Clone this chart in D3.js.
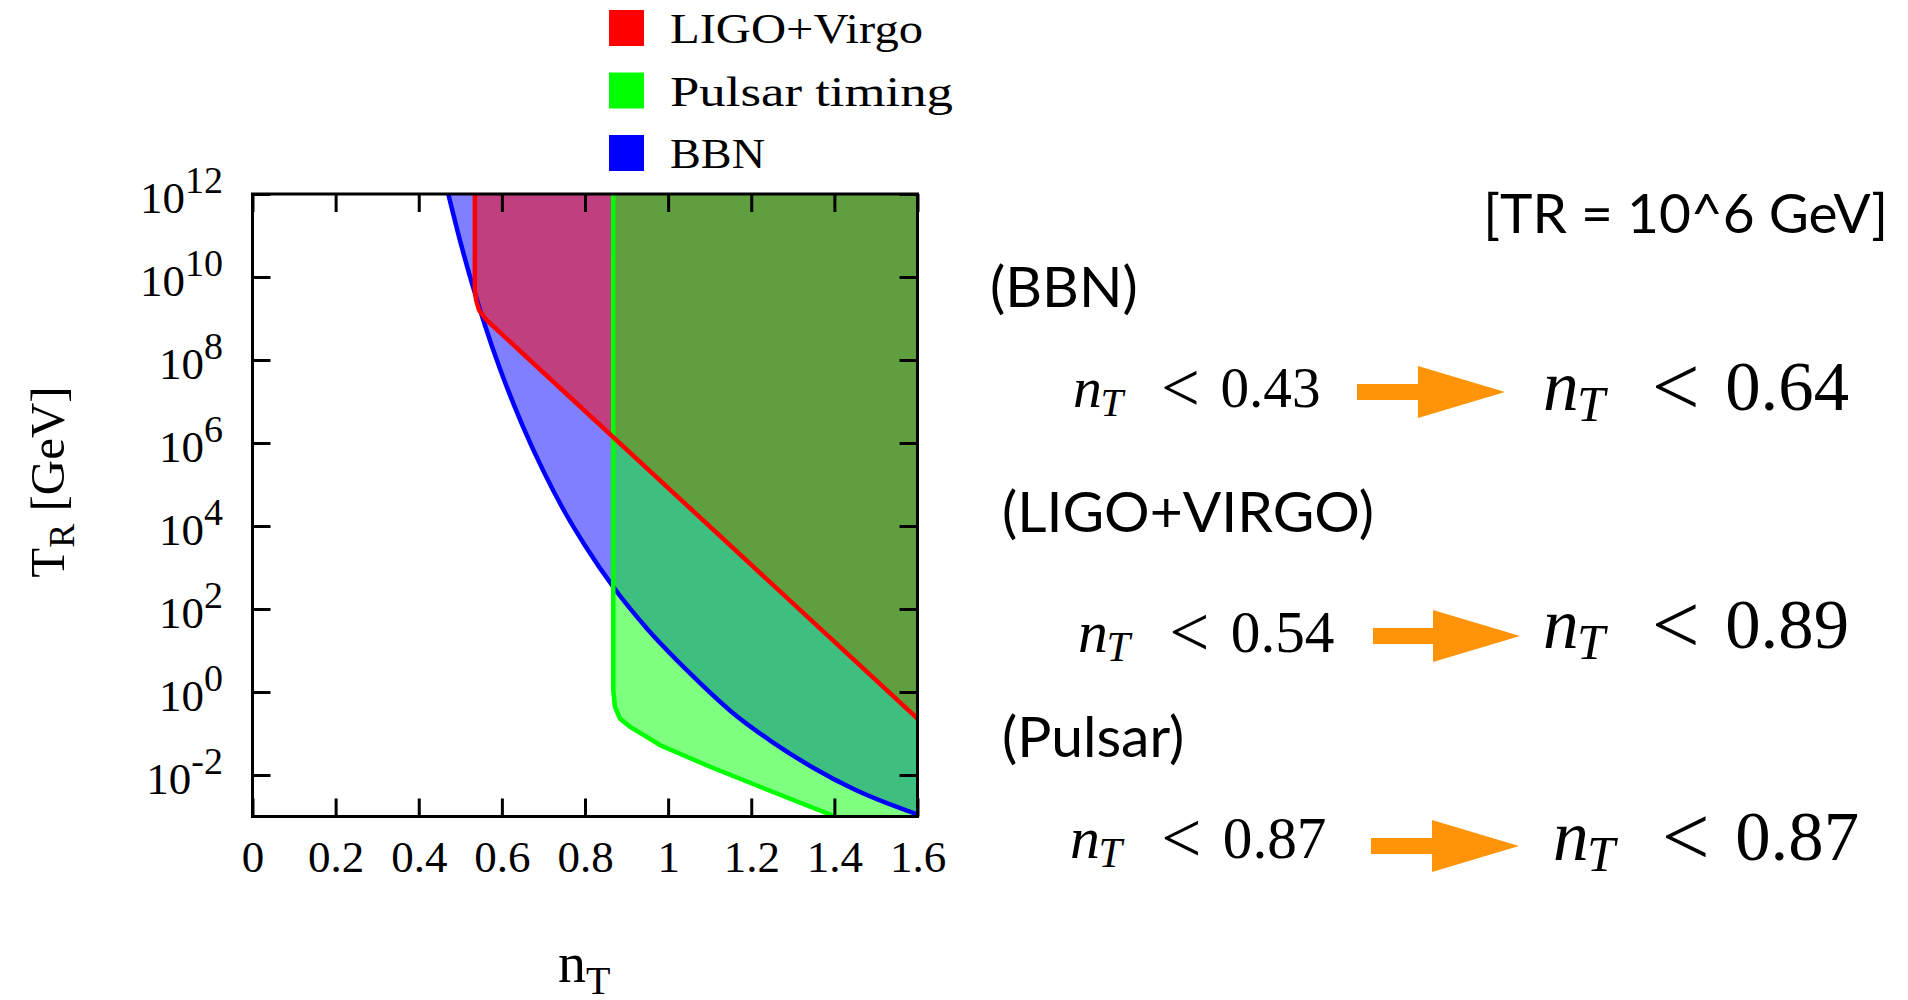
<!DOCTYPE html>
<html>
<head>
<meta charset="utf-8">
<script src="https://cdn.jsdelivr.net/npm/d3@7"></script>
<style>
  body { margin: 0; background: #fff; }
  text { font-family: "Liberation Serif", "Times New Roman", serif; fill: #000; }
  text.sans { font-family: Lato, "Open Sans", sans-serif; }
</style>
</head>
<body>
<script>
// boundaries: n_T and T_R [GeV]
var bbnN = [0.471, 0.50, 0.53, 0.56, 0.60, 0.65, 0.70, 0.75, 0.80, 0.87, 0.95, 1.05, 1.15, 1.25, 1.35, 1.45, 1.6];
var bbnT = [1e12, 7.1e10, 6.0e9, 6.5e8, 4.6e7, 2.6e6, 2.1e5, 2.3e4, 3.4e3, 320, 33, 3.0, 0.35, 0.063, 0.0148, 0.0044, 0.00112];

var ligoN = [0.535, 0.535, 0.538, 0.545, 0.5635, 1.6];
var ligoT = [1e12, 5e9, 2.8e9, 1.6e9, 9.1e8, 0.23];

var pulsarN = [0.868, 0.868, 0.872, 0.884, 0.908, 0.981, 1.101, 1.221, 1.402];
var pulsarT = [1e12, 1.1, 0.44, 0.23, 0.146, 0.052, 0.0158, 0.0052, 0.001];

var legendNames = ["LIGO+Virgo", "Pulsar timing", "BBN"];
var legendColors = ["#ff0000", "#00ff00", "#0000ff"];

var xTicks = [0, 0.2, 0.4, 0.6, 0.8, 1, 1.2, 1.4, 1.6];
var yTicks = [1e-2, 1e0, 1e2, 1e4, 1e6, 1e8, 1e10, 1e12];

// right-hand notes
var noteTitle = "[TR = 10^6 GeV]";
var constraintNames = ["(BBN)", "(LIGO+VIRGO)", "(Pulsar)"];
var oldBound = [0.43, 0.54, 0.87];
var newBound = [0.64, 0.89, 0.87];

var width = 1908, height = 1000;
var plotL = 252.5, plotR = 917.5, plotT = 194, plotB = 816.5;

var x = d3.scaleLinear().domain([0, 1.6]).range([plotL, plotR]);
var y = d3.scaleLog().domain([1e-3, 1e12]).range([plotB, plotT]);

var svg = d3.select("body").append("svg")
    .attr("width", width)
    .attr("height", height);

svg.append("defs").append("clipPath").attr("id", "plotclip")
  .append("rect")
    .attr("x", plotL).attr("y", plotT)
    .attr("width", plotR - plotL).attr("height", plotB - plotT);

function pts(ns, ts) { return ns.map(function(n, i) { return [n, ts[i]]; }); }

var bbn = pts(bbnN, bbnT),
    ligo = pts(ligoN, ligoT),
    pulsar = pts(pulsarN, pulsarT);

var smooth = d3.line().x(function(d) { return x(d[0]); }).y(function(d) { return y(d[1]); }).curve(d3.curveMonotoneX);
var straight = d3.line().x(function(d) { return x(d[0]); }).y(function(d) { return y(d[1]); });

function close(path, corners) {
  return path + corners.map(function(c) { return "L" + x(c[0]) + "," + y(c[1]); }).join("") + "Z";
}

var plot = svg.append("g").attr("clip-path", "url(#plotclip)");

// filled regions, each half transparent so overlaps mix
plot.append("path")
    .attr("d", close(smooth(bbn), [[1.6, 1e-3], [1.6, 1e12]]))
    .attr("fill", "#0000ff").attr("fill-opacity", 0.5);
plot.append("path")
    .attr("d", close(straight(ligo), [[1.6, 1e12]]))
    .attr("fill", "#ff0000").attr("fill-opacity", 0.5);
plot.append("path")
    .attr("d", close(straight(pulsar), [[1.6, 1e-3], [1.6, 1e12]]))
    .attr("fill", "#00ff00").attr("fill-opacity", 0.5);

// boundary lines
plot.append("path").attr("d", smooth(bbn))
    .attr("fill", "none").attr("stroke", "#0000ff").attr("stroke-width", 4.5);
plot.append("path").attr("d", straight(pulsar))
    .attr("fill", "none").attr("stroke", "#00ff00").attr("stroke-width", 4.5);
plot.append("path").attr("d", straight(ligo))
    .attr("fill", "none").attr("stroke", "#ff0000").attr("stroke-width", 4.5);

// axes: inward ticks on all four sides
var xAxis = d3.axisBottom(x).tickValues(xTicks)
    .tickFormat(function(d) { return d; })
    .tickSizeInner(-18).tickSizeOuter(0).tickPadding(24);

var gx = svg.append("g").attr("transform", "translate(0," + plotB + ")").call(xAxis);
gx.attr("font-size", 45);

svg.append("g").attr("transform", "translate(0," + plotT + ")")
    .call(d3.axisTop(x).tickValues(xTicks).tickFormat("").tickSizeInner(-18).tickSizeOuter(0));
svg.append("g").attr("transform", "translate(" + plotL + ",0)")
    .call(d3.axisLeft(y).tickValues(yTicks).tickFormat("").tickSizeInner(-18).tickSizeOuter(0));
svg.append("g").attr("transform", "translate(" + plotR + ",0)")
    .call(d3.axisRight(y).tickValues(yTicks).tickFormat("").tickSizeInner(-18).tickSizeOuter(0));

svg.selectAll(".domain").remove();
svg.selectAll(".tick line").attr("stroke", "#000").attr("stroke-width", 3);

svg.append("rect")
    .attr("x", plotL).attr("y", plotT)
    .attr("width", plotR - plotL).attr("height", plotB - plotT)
    .attr("fill", "none").attr("stroke", "#000").attr("stroke-width", 3);

// y tick labels with exponents
var yLab = svg.append("g").selectAll("text")
    .data(yTicks)
  .join("text")
    .attr("x", 223)
    .attr("y", function(d) { return y(d) + 19; })
    .attr("text-anchor", "end");
yLab.append("tspan").attr("font-size", 45).text("10");
yLab.append("tspan").attr("font-size", 38).attr("dy", -20)
    .text(function(d) { return Math.round(Math.log10(d)); });

// axis titles
var yt = svg.append("text")
    .attr("transform", "translate(64,482) rotate(-90)")
    .attr("text-anchor", "middle");
yt.append("tspan").attr("font-size", 49).text("T");
yt.append("tspan").attr("font-size", 36).attr("dy", 10).text("R");
yt.append("tspan").attr("font-size", 49).attr("dy", -10).text(" [GeV]");

var xt = svg.append("text").attr("x", 558).attr("y", 982);
xt.append("tspan").attr("font-size", 56).text("n");
xt.append("tspan").attr("font-size", 40).attr("dy", 12).text("T");

// legend
var legendTextWidth = [253, 283, 95];
var lg = svg.append("g").selectAll("g")
    .data(legendNames)
  .join("g")
    .attr("transform", function(d, i) { return "translate(609," + (10 + i * 62.5) + ")"; });
lg.append("rect").attr("width", 35).attr("height", 36)
    .attr("fill", function(d, i) { return legendColors[i]; });
lg.append("text").attr("x", 61).attr("y", 33).attr("font-size", 42)
    .attr("textLength", function(d, i) { return legendTextWidth[i]; })
    .attr("lengthAdjust", "spacingAndGlyphs")
    .text(function(d) { return d; });

// notes on the right
var fmt = d3.format(".2f");
var rows = [
  {hx: 990, hy: 307, lx: 1073, ly: 407, lf: 55, ax: 1357, tip: 1505, ay: 392, rx: 1543, ry: 410, rf: 68},
  {hx: 1002, hy: 532, lx: 1078, ly: 652, lf: 57, ax: 1373, tip: 1520, ay: 636, rx: 1543, ry: 648, rf: 68},
  {hx: 1002, hy: 757, lx: 1070, ly: 858, lf: 57, ax: 1371, tip: 1519, ay: 846, rx: 1553, ry: 860, rf: 68}
];

svg.append("text").attr("class", "sans")
    .attr("x", 1888).attr("y", 233).attr("text-anchor", "end")
    .attr("font-size", 55).text(noteTitle);

function expr(g, x0, base, f, v) {
  g.append("text").attr("x", x0).attr("y", base).attr("font-size", 1.05 * f)
      .attr("font-style", "italic").text("n");
  g.append("text").attr("x", x0 + 0.5 * f).attr("y", base + 0.16 * f).attr("font-size", 0.74 * f)
      .attr("font-style", "italic").text("T");
  g.append("text").attr("x", x0 + 1.6 * f).attr("y", base + 0.07 * f).attr("font-size", 1.25 * f)
      .text("<");
  g.append("text").attr("x", x0 + 2.68 * f).attr("y", base).attr("font-size", 1.04 * f).text(fmt(v));
}

rows.forEach(function(r, i) {
  var g = svg.append("g");
  g.append("text").attr("class", "sans")
      .attr("x", r.hx).attr("y", r.hy).attr("font-size", 57)
      .text(constraintNames[i]);
  expr(g, r.lx, r.ly, r.lf, oldBound[i]);
  expr(g, r.rx, r.ry, r.rf, newBound[i]);
  var hb = r.tip - 87;
  g.append("path")
      .attr("d", "M" + r.ax + "," + (r.ay - 8) + "H" + hb + "V" + (r.ay - 26) +
                 "L" + r.tip + "," + r.ay + "L" + hb + "," + (r.ay + 26) +
                 "V" + (r.ay + 8) + "H" + r.ax + "Z")
      .attr("fill", "#ff9408");
});
</script>
</body>
</html>
